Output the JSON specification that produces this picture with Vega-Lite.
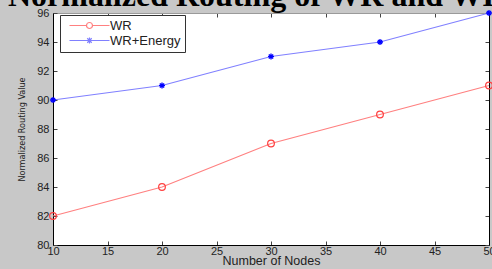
{
  "$schema": "https://vega.github.io/schema/vega-lite/v6.json",
  "autosize": {"type": "none"},
  "width": 436,
  "height": 232,
  "padding": {"left": 53, "top": 13, "right": 3, "bottom": 24},
  "background": "#c8c8c8",
  "title": {
    "text": "Normalized Routing of WR and WR+Energy",
    "font": "Liberation Serif",
    "fontSize": 32,
    "fontWeight": "bold",
    "color": "#000000",
    "anchor": "start",
    "frame": "group",
    "baseline": "alphabetic",
    "offset": 1,
    "dx": -45,
    "dy": 32
  },
  "config": {
    "view": {"fill": "white", "stroke": null},
    "axis": {
      "labelFont": "Liberation Sans",
      "labelFontSize": 11,
      "labelColor": "#222222",
      "titleFont": "Liberation Sans",
      "titleColor": "#222222",
      "titleFontWeight": "normal",
      "grid": false,
      "domainColor": "#000000",
      "tickColor": "#444444",
      "tickSize": -4
    }
  },
  "data": {
    "values": [
      {"nodes": 10, "value": 82, "series": "WR"},
      {"nodes": 20, "value": 84, "series": "WR"},
      {"nodes": 30, "value": 87, "series": "WR"},
      {"nodes": 40, "value": 89, "series": "WR"},
      {"nodes": 50, "value": 91, "series": "WR"},
      {"nodes": 10, "value": 90, "series": "WR+Energy"},
      {"nodes": 20, "value": 91, "series": "WR+Energy"},
      {"nodes": 30, "value": 93, "series": "WR+Energy"},
      {"nodes": 40, "value": 94, "series": "WR+Energy"},
      {"nodes": 50, "value": 96, "series": "WR+Energy"}
    ]
  },
  "resolve": {"axis": {"x": "independent", "y": "independent"}},
  "layer": [
    {
      "mark": {"type": "line", "strokeWidth": 1.2, "clip": false},
      "encoding": {
        "x": {
          "field": "nodes", "type": "quantitative",
          "scale": {"domain": [10, 50], "nice": false, "zero": false},
          "axis": {"title": "Number of Nodes", "values": [10, 15, 20, 25, 30, 35, 40, 45, 50], "labelPadding": 4, "titlePadding": -2, "titleFontSize": 12.5, "labelFlush": false}
        },
        "y": {
          "field": "value", "type": "quantitative",
          "scale": {"domain": [80, 96], "nice": false, "zero": false},
          "axis": {"title": "Normalized Routing Value", "values": [80, 82, 84, 86, 88, 90, 92, 94, 96], "labelPadding": 8, "titlePadding": 10, "titleFont": "DejaVu Sans Condensed, Liberation Sans", "titleFontSize": 9, "labelFlush": false}
        },
        "color": {
          "field": "series", "type": "nominal",
          "scale": {"domain": ["WR", "WR+Energy"], "range": ["#ff8080", "#8080ff"]},
          "legend": {
            "title": null,
            "orient": "none",
            "legendX": 7,
            "legendY": 2,
            "fillColor": "white",
            "strokeColor": "#333333",
            "padding": 4,
            "cornerRadius": 0,
            "labelFont": "Liberation Sans",
            "labelFontSize": 13,
            "labelColor": "#222222",
            "labelOffset": 14,
            "symbolOffset": 19,
            "rowPadding": 1,
            "symbolType": "stroke",
            "symbolSize": 100,
            "encode": {
              "symbols": {
                "update": {
                  "shape": {"signal": "datum.value == 'WR' ? 'M-4,0H-0.6M0.6,0H4M0.6,0A0.6,0.6 0 1 1 -0.6,0A0.6,0.6 0 1 1 0.6,0' : 'M-4,0H4M0,-0.6V0.6M-0.45,-0.45L0.45,0.45M-0.45,0.45L0.45,-0.45'"},
                  "stroke": {"signal": "datum.value == 'WR' ? '#ff6060' : '#4040ff'"},
                  "strokeWidth": {"value": 1.2}
                }
              }
            }
          }
        }
      }
    },
    {
      "transform": [{"filter": "datum.series == 'WR'"}],
      "mark": {"type": "point", "shape": "circle", "filled": false, "color": "#ff4040", "size": 45, "strokeWidth": 1.2, "clip": false, "opacity": 1},
      "encoding": {
        "x": {"field": "nodes", "type": "quantitative", "axis": {"orient": "top", "labels": false, "title": null, "values": [10, 15, 20, 25, 30, 35, 40, 45, 50], "domainColor": "#9a9a9a"}},
        "y": {"field": "value", "type": "quantitative", "axis": {"orient": "right", "labels": false, "title": null, "values": [80, 82, 84, 86, 88, 90, 92, 94, 96]}}
      }
    },
    {
      "transform": [{"filter": "datum.series == 'WR+Energy'"}],
      "mark": {"type": "point", "shape": "M0,-1V1M-1,0H1M-0.7,-0.7L0.7,0.7M-0.7,0.7L0.7,-0.7", "filled": false, "color": "#0000ff", "size": 36, "strokeWidth": 1.3, "clip": false, "opacity": 1},
      "encoding": {
        "x": {"field": "nodes", "type": "quantitative", "axis": null},
        "y": {"field": "value", "type": "quantitative", "axis": null}
      }
    }
  ]
}
